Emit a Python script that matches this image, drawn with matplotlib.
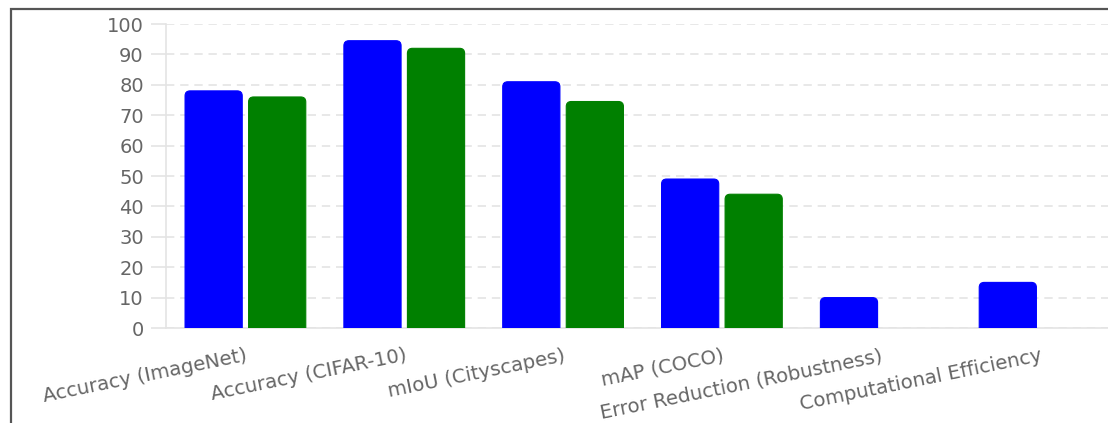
import matplotlib
matplotlib.use("Agg")
import matplotlib.pyplot as plt
from matplotlib.patches import FancyBboxPatch, Rectangle

# -- Data ---------------------------------------------------------------
categories = [
    "Accuracy (ImageNet)",
    "Accuracy (CIFAR-10)",
    "mIoU (Cityscapes)",
    "mAP (COCO)",
    "Error Reduction (Robustness)",
    "Computational Efficiency",
]
series_blue = [78, 94.5, 81, 49, 10, 15]
series_green = [76, 92, 74.5, 44, 0, 0]
y_ticks = [0, 10, 20, 30, 40, 50, 60, 70, 80, 90, 100]

plt.rcParams['font.family'] = ['DejaVu Sans']

W, H = 1108, 423
AX_L, AX_R, AX_T, AX_B = 166, 1119, 24, 328   # axes box in pixels
fig = plt.figure(figsize=(W / 100, H / 100), dpi=100)
ax = fig.add_axes([AX_L / W, 1 - AX_B / H, (AX_R - AX_L) / W,
                   (AX_B - AX_T) / H])

ax.set_xlim(-0.5, len(categories) - 0.5)
ax.set_ylim(0, 100)

# pixel scale, used to keep corner rounding round
px_x = (AX_R - AX_L) / len(categories)
px_y = (AX_B - AX_T) / 100.0
radius_px = 5
bar_w = 0.36
offset = 0.2


def rounded_bar(x, h, color):
    if h <= 0:
        return
    r = radius_px / px_x
    aspect = px_x / px_y
    extra = radius_px / px_y + 1
    patch = FancyBboxPatch(
        (x - bar_w / 2, -extra), bar_w, h + extra,
        boxstyle=f"round,pad=0,rounding_size={r}",
        mutation_aspect=aspect,
        facecolor=color, edgecolor=color, linewidth=0.8, zorder=3,
    )
    ax.add_patch(patch)


for i, (b, g) in enumerate(zip(series_blue, series_green)):
    rounded_bar(i - offset, b, "#0000ff")
    rounded_bar(i + offset, g, "#008000")

# -- Axes styling -------------------------------------------------------
ax.set_yticks(y_ticks)
ax.set_yticklabels([str(t) for t in y_ticks])
ax.set_xticks(range(len(categories)))
ax.set_xticklabels(categories, rotation=11.5, ha="right",
                   rotation_mode="anchor")

ax.grid(axis="y", linestyle=(0, (5, 3.5)), color="#e4e4e4", linewidth=1.2,
        zorder=0)
ax.set_axisbelow(True)
for side in ["top", "right"]:
    ax.spines[side].set_visible(False)
ax.spines["left"].set_color("#e4e4e4")
ax.spines["bottom"].set_color("#e4e4e4")
ax.spines["left"].set_linewidth(1.2)
ax.spines["bottom"].set_linewidth(1.2)

ax.tick_params(axis="y", length=11, color="#e4e4e4", width=1.2,
               labelsize=14, labelcolor="#666666", pad=5)
ax.tick_params(axis="x", length=0, labelsize=14.2, labelcolor="#666666",
               pad=13)

# outer frame
fig.patches.append(Rectangle((10.5 / W, -0.1), 1.2, 1 - 9.5 / H + 0.1,
                             transform=fig.transFigure, fill=False,
                             edgecolor="#555555", linewidth=1.6))

fig.savefig("out.png", dpi=100)
